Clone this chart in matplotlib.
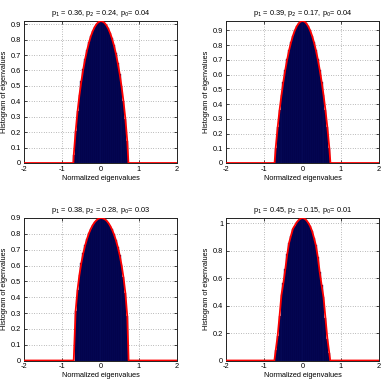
import matplotlib
matplotlib.use("Agg")
import matplotlib.pyplot as plt
import numpy as np

plt.rcParams['font.family'] = ['Liberation Sans', 'DejaVu Sans']
plt.rcParams['axes.unicode_minus'] = False

# bin centres (normalized eigenvalues)
bin_centers = [-0.70, -0.65, -0.60, -0.55, -0.50, -0.45, -0.40, -0.35, -0.30, -0.25,
               -0.20, -0.15, -0.10, -0.05, 0.00, 0.05, 0.10, 0.15, 0.20, 0.25,
               0.30, 0.35, 0.40, 0.45, 0.50, 0.55, 0.60, 0.65, 0.70]

hist_1 = [0.050, 0.205, 0.335, 0.442, 0.531, 0.609, 0.676, 0.733, 0.782, 0.824,
          0.857, 0.883, 0.902, 0.914, 0.920, 0.918, 0.910, 0.895, 0.873, 0.844,
          0.808, 0.764, 0.712, 0.650, 0.580, 0.497, 0.401, 0.287, 0.141]
hist_2 = [0.105, 0.241, 0.358, 0.460, 0.552, 0.632, 0.703, 0.765, 0.818, 0.863,
          0.899, 0.927, 0.947, 0.959, 0.963, 0.959, 0.947, 0.927, 0.899, 0.863,
          0.818, 0.765, 0.703, 0.632, 0.552, 0.460, 0.358, 0.241, 0.105]
hist_3 = [0.000, 0.314, 0.448, 0.543, 0.618, 0.678, 0.728, 0.770, 0.805, 0.833,
          0.856, 0.874, 0.887, 0.896, 0.900, 0.899, 0.894, 0.885, 0.871, 0.852,
          0.828, 0.798, 0.762, 0.719, 0.667, 0.604, 0.526, 0.426, 0.278]
hist_4 = [0.075, 0.180, 0.325, 0.480, 0.565, 0.665, 0.775, 0.860, 0.912, 0.962,
          0.985, 1.008, 1.025, 1.036, 1.040, 1.036, 1.024, 1.005, 0.980, 0.945,
          0.895, 0.840, 0.755, 0.645, 0.550, 0.460, 0.310, 0.160, 0.055]

# support edges of the theoretical density
support_1 = (-0.71, 0.73)
support_2 = (-0.73, 0.73)
support_3 = (-0.70, 0.735)
support_4 = (-0.735, 0.725)

titles = [r"p$_1$ = 0.36, p$_2$ = 0.24, p$_0$= 0.04",
          r"p$_1$ = 0.39, p$_2$ = 0.17, p$_0$= 0.04",
          r"p$_1$ = 0.38, p$_2$ = 0.28, p$_0$= 0.03",
          r"p$_1$ = 0.45, p$_2$ = 0.15, p$_0$= 0.01"]
ymax = [0.921, 0.963, 0.90, 1.04]
yticks_small = [0, 0.1, 0.2, 0.3, 0.4, 0.5, 0.6, 0.7, 0.8, 0.9]
ytick_labels_small = ["0", "0.1", "0.2", "0.3", "0.4", "0.5", "0.6", "0.7", "0.8", "0.9"]
yticks_big = [0, 0.2, 0.4, 0.6, 0.8, 1.0]
ytick_labels_big = ["0", "0.2", "0.4", "0.6", "0.8", "1"]
xticks = [-2, -1, 0, 1, 2]
xtick_labels = ["-2", "-1", "0", "1", "2"]

W, H = 386, 379
fig = plt.figure(figsize=(W / 100, H / 100), dpi=100)

boxes = [(24, 21, 153, 142), (226, 21, 153, 142),
         (24, 218, 153, 142.5), (226, 218, 153, 142.5)]
hists = [hist_1, hist_2, hist_3, hist_4]
supports = [support_1, support_2, support_3, support_4]

fs = 5.3
for i in range(4):
    l, t, w, h = boxes[i]
    ax = fig.add_axes([l / W, 1 - (t + h) / H, w / W, h / H])
    vals = hists[i]
    ax.bar(bin_centers, vals, width=0.05, color='#000048', edgecolor='#0c1466',
           linewidth=0.25, zorder=2)
    lo, hi = supports[i]
    if i == 2:
        cx = [-2] + bin_centers + [hi, 2]
        cy = [0] + vals + [0, 0]
    else:
        cx = [-2, lo] + bin_centers + [hi, 2]
        cy = [0, 0] + vals + [0, 0]
    ax.plot(cx, cy, color='#ff0000', lw=1.3, zorder=3, solid_joinstyle='round')
    ax.set_xlim(-2, 2)
    ax.set_ylim(0, ymax[i])
    ax.set_xticks(xticks)
    ax.set_xticklabels(xtick_labels)
    if i == 3:
        ax.set_yticks(yticks_big)
        ax.set_yticklabels(ytick_labels_big)
    else:
        ax.set_yticks(yticks_small)
        ax.set_yticklabels(ytick_labels_small)
    ax.grid(True, linestyle=(0, (1, 2.5)), color='#7a7a7a', lw=0.5, zorder=1)
    ax.set_axisbelow(True)
    ax.tick_params(direction='in', length=2.5, width=0.5, labelsize=fs, pad=2,
                   top=True, right=True)
    for s in ax.spines.values():
        s.set_linewidth(0.7)
        s.set_color('#222222')
    ax.set_title(titles[i], fontsize=fs, pad=4.5)
    ax.set_xlabel("Normalized eigenvalues", fontsize=fs, labelpad=1.5)
    ax.set_ylabel("Histogram of eigenvalues", fontsize=fs, labelpad=2)

fig.savefig("out.png", dpi=100)
